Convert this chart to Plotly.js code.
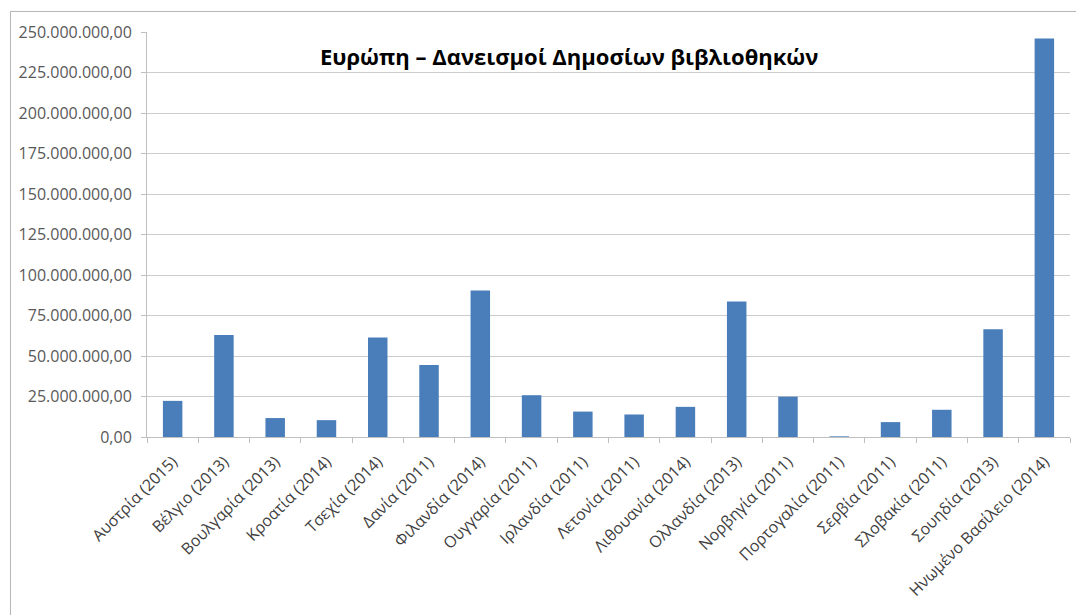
<!DOCTYPE html>
<html>
<head>
<meta charset="utf-8">
<script src="https://cdn.plot.ly/plotly-3.0.1.min.js"></script>
<style>
  html, body { margin: 0; padding: 0; background: #ffffff; }
  #chart { position: absolute; left: 0; top: 0; width: 1076px; height: 615px; }
  #frame { position: absolute; left: 10px; top: 11px; width: 1070px; height: 620px;
           border: 1px solid #b8b8b8; box-shadow: 1px 1px 2px rgba(0,0,0,0.25); pointer-events: none; }
</style>
</head>
<body>
<div id="chart"></div>
<div id="frame"></div>
<script>
const categories = [
  "Αυστρία (2015)", "Βέλγιο (2013)", "Βουλγαρία (2013)", "Κροατία (2014)",
  "Τσεχία (2014)", "Δανία (2011)", "Φιλανδία (2014)", "Ουγγαρία (2011)",
  "Ιρλανδία (2011)", "Λετονία (2011)", "Λιθουανία (2014)", "Ολλανδία (2013)",
  "Νορβηγία (2011)", "Πορτογαλία (2011)", "Σερβία (2011)", "Σλοβακία (2011)",
  "Σουηδία (2013)", "Ηνωμένο Βασίλειο (2014)"
];
const loans = [
  22300000, 63000000, 11700000, 10400000,
  61400000, 44400000, 90500000, 25800000,
  15700000, 13900000, 18600000, 83700000,
  24900000, 400000, 9200000, 16800000,
  66500000, 246000000
];
const yTicks = [0, 25000000, 50000000, 75000000, 100000000, 125000000, 150000000, 175000000, 200000000, 225000000, 250000000];
const chartTitle = "Ευρώπη – Δανεισμοί Δημοσίων βιβλιοθηκών";

const trace = {
  type: "bar",
  x: categories,
  y: loans,
  marker: { color: "#4a7ebb", line: { width: 0 } },
  hoverinfo: "x+y"
};

const layout = {
  width: 1076,
  height: 615,
  separators: ",.",
  paper_bgcolor: "#ffffff",
  plot_bgcolor: "#ffffff",
  margin: { l: 147, r: 6, t: 32, b: 178, pad: 0 },
  bargap: 0.62,
  showlegend: false,
  title: {
    text: chartTitle,
    font: { family: "Open Sans, sans-serif", size: 22, color: "#000000", weight: "bold" },
    x: 0.529, xanchor: "center", xref: "container",
    y: 0.907, yanchor: "middle", yref: "container"
  },
  xaxis: {
    type: "category",
    tickangle: -45,
    tickson: "boundaries",
    ticks: "outside",
    ticklen: 5,
    tickcolor: "#bfbfbf",
    ticklabelstandoff: 8,
    showline: true,
    linecolor: "#bfbfbf",
    linewidth: 1,
    showgrid: false,
    tickfont: { family: "Open Sans, sans-serif", size: 16, color: "#404040" },
    automargin: false
  },
  yaxis: {
    range: [0, 250000000],
    tickvals: yTicks,
    tickformat: ",.2f",
    ticks: "outside",
    ticklen: 5,
    tickcolor: "#bfbfbf",
    ticklabelstandoff: 6,
    showline: true,
    linecolor: "#bfbfbf",
    linewidth: 1,
    showgrid: true,
    gridcolor: "#cccccc",
    gridwidth: 1,
    zeroline: false,
    tickfont: { family: "Open Sans, sans-serif", size: 16, color: "#595959" },
    automargin: false
  }
};

Plotly.newPlot("chart", [trace], layout, { displayModeBar: false, staticPlot: true });
</script>
</body>
</html>
